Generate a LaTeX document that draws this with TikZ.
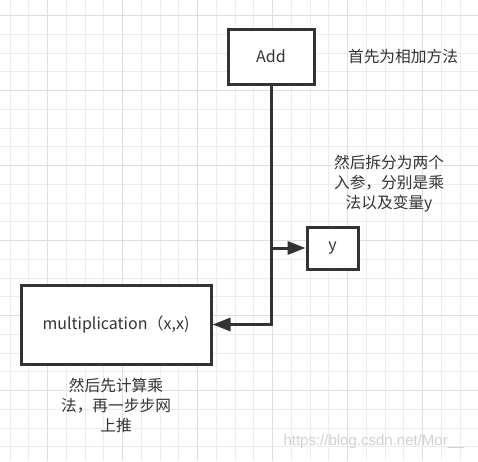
\documentclass[tikz,border=0pt]{standalone}
\usepackage{fontspec}
\setmainfont{Noto Sans CJK SC}
\newfontfamily\wmfont{Liberation Sans}
\usetikzlibrary{arrows.meta}
\definecolor{ln}{HTML}{333333}
\definecolor{txt}{HTML}{333333}
\definecolor{gmajor}{HTML}{DEDEDE}
\definecolor{gminor}{HTML}{ECECEC}
\tikzset{
  box/.style={draw=ln, line width=3pt, fill=white, inner sep=0pt, text=txt, font=\fontsize{16}{20}\selectfont},
  conn/.style={draw=ln, line width=3pt},
  tip/.style={-{Triangle[length=18pt,width=13pt]}},
  note/.style={text=txt, align=center, inner sep=0pt, font=\fontsize{15.7}{20}\selectfont},
}
\begin{document}
\begin{tikzpicture}[x=1pt,y=-1pt]
\useasboundingbox (0,0) rectangle (478,461);
\fill[white] (0,0) rectangle (478,461);
% grid
\foreach \i in {-2,...,23} {
  \pgfmathsetmacro{\xx}{round(47.2+18.75*\i)+0.5}
  \draw[gminor, line width=1.2pt] (\xx,0) -- (\xx,461);
}
\foreach \i in {0,...,24} {
  \pgfmathsetmacro{\yy}{round(15+18.75*\i)+0.5}
  \draw[gminor, line width=1.2pt] (0,\yy) -- (478,\yy);
}
\foreach \i in {-1,...,6} {
  \pgfmathsetmacro{\xx}{round(47.2+75*\i)+0.5}
  \draw[gmajor, line width=1.2pt] (\xx,0) -- (\xx,461);
}
\foreach \i in {0,...,6} {
  \pgfmathsetmacro{\yy}{round(15+75*\i)+0.5}
  \draw[gmajor, line width=1.2pt] (0,\yy) -- (478,\yy);
}
% boxes
\node[box, minimum width=86pt, minimum height=55pt] (add) at (271,56.5) {Add};
\node[box, minimum width=51pt, minimum height=42pt] (y) at (332.5,248) {y};
\node[box, minimum width=190pt, minimum height=79pt] (mult) at (116,324.5) {multiplication（x,x)};
% connectors
\coordinate (corner) at (271,324.5);
\coordinate (branch) at (271,248);
\draw[conn, tip] (add.south) -- (corner) -- (mult.east);
\draw[conn, tip] (branch) -- (y.west);
% notes
\node[note] (n1) at (403,57) {首先为相加方法};
\node[note] (n2) at (389,184) {然后拆分为两个\\入参，分别是乘\\法以及变量y};
\node[note] (n3) at (116,405) {然后先计算乘\\法，再一步步网\\上推};
\node[text=black!18, inner sep=0pt, font=\wmfont\fontsize{15}{18}\selectfont] (wm) at (374,442) {https://blog.csdn.net/Mor\_\_};
\end{tikzpicture}
\end{document}
